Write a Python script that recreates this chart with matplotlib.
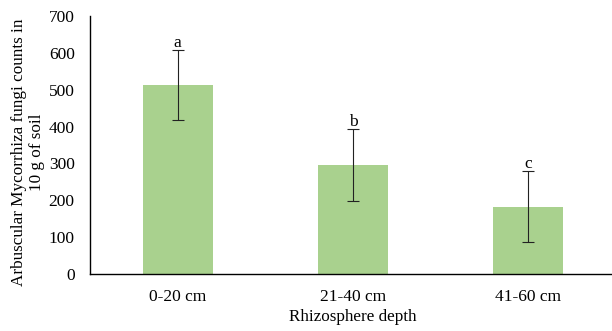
import matplotlib
matplotlib.use("Agg")
import matplotlib.pyplot as plt

depths = ["0-20 cm", "21-40 cm", "41-60 cm"]
counts = [513, 296, 183]
errors = [95, 97, 97]
letters = ["a", "b", "c"]

BAR_COLOR = "#A9D18E"

plt.rcParams["font.family"] = ["Liberation Serif", "DejaVu Serif"]

fig = plt.figure(figsize=(6.12, 3.31), dpi=100)
ax = fig.add_axes([90 / 612, 57 / 331, 526 / 612, 258 / 331])

x = range(len(depths))
ax.bar(x, counts, 0.4, color=BAR_COLOR, yerr=errors, capsize=4.5,
       error_kw=dict(lw=0.8, ecolor="#222222", capthick=0.8))

# lettres de significativité juste au-dessus des barres d'erreur
for xi, c, e, lab in zip(x, counts, errors, letters):
    ax.text(xi, c + e - 3, lab, ha="center", va="bottom", fontsize=12.5)

ax.set_xlim(-0.5, 2.5)
ax.set_ylim(0, 700)
ax.set_yticks(range(0, 701, 100))
ax.set_xticks(list(x))
ax.set_xticklabels(depths)
ax.tick_params(length=0, labelsize=12.5)
ax.tick_params(axis="x", pad=11)
ax.tick_params(axis="y", pad=11)
for s in ["top", "right"]:
    ax.spines[s].set_visible(False)
ax.spines["left"].set_linewidth(1.0)
ax.spines["bottom"].set_linewidth(1.0)

ax.set_xlabel("Rhizosphere depth", fontsize=12.3, labelpad=3)
ax.set_ylabel("Arbuscular Mycorrhiza fungi counts in\n10 g of soil",
              fontsize=12.3, labelpad=3, linespacing=1.15, y=0.473)

fig.savefig("out.png", dpi=100)
